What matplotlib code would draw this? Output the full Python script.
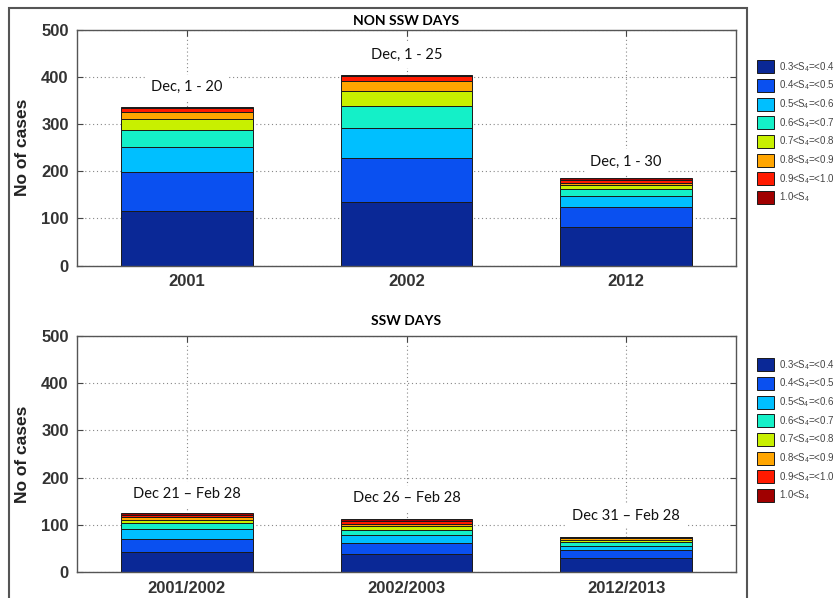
import matplotlib
matplotlib.use("Agg")
import matplotlib.pyplot as plt
import numpy as np
from matplotlib.patches import Rectangle

plt.rcParams["font.family"] = ["Liberation Sans", "DejaVu Sans"]
plt.rcParams["mathtext.default"] = "regular"

# class labels (S4 bins) and colours
classes = ["0.3<S$_4$=<0.4", "0.4<S$_4$=<0.5", "0.5<S$_4$=<0.6", "0.6<S$_4$=<0.7",
           "0.7<S$_4$=<0.8", "0.8<S$_4$=<0.9", "0.9<S$_4$=<1.0", "1.0<S$_4$"]
colors = ["#0a2896", "#0a50f0", "#00bfff", "#14f0c8",
          "#c8f000", "#ffa500", "#ff1a00", "#a00000"]

# NON SSW days
non_ssw_years = ["2001", "2002", "2012"]
non_ssw_counts = [
    [116, 135, 82],
    [83, 93, 43],
    [52, 64, 23],
    [36, 47, 14],
    [24, 31, 8],
    [15, 21, 6],
    [8, 10, 5],
    [2, 3, 5],
]
non_ssw_periods = ["Dec, 1 - 20", "Dec, 1 - 25", "Dec, 1 - 30"]
non_ssw_label_y = [378, 446, 220]

# SSW days
ssw_years = ["2001/2002", "2002/2003", "2012/2013"]
ssw_counts = [
    [42, 39, 31],
    [28, 23, 16],
    [21, 17, 9],
    [13, 11, 8],
    [7, 7, 4],
    [6, 6, 3.5],
    [5, 5, 2],
    [3, 4.5, 2],
]
ssw_periods = ["Dec 21 \u2013 Feb 28", "Dec 26 \u2013 Feb 28", "Dec 31 \u2013 Feb 28"]
ssw_label_y = [165, 156, 119]

W, H = 840, 598
fig = plt.figure(figsize=(8.4, 5.98), dpi=100)


def fx(px):
    return px / W


def fy(py):
    return 1 - py / H


def draw_panel(ax, years, counts, periods, label_y, title, title_y, leg_top):
    x = np.arange(1, len(years) + 1)
    bottom = np.zeros(len(years))
    handles = []
    for k, vals in enumerate(counts):
        vals = np.asarray(vals, dtype=float)
        b = ax.bar(x, vals, width=0.6, bottom=bottom, color=colors[k],
                   edgecolor="#1a1a1a", lw=0.7, zorder=2, label=classes[k])
        handles.append(b)
        bottom += vals
    ax.set_xlim(0.5, 3.5)
    ax.set_ylim(0, 500)
    yt = list(range(0, 501, 100))
    ax.set_yticks(yt, [str(v) for v in yt], fontweight="bold",
                  family="Liberation Sans")
    ax.set_xticks(x, years, fontweight="bold", family="Liberation Sans")
    ax.tick_params(direction="in", top=True, right=True, length=4,
                   color="#444", labelsize=12, labelcolor="#333", pad=6)
    ax.grid(True, ls=(0, (1, 2.5)), color="#888", lw=0.8, zorder=0)
    ax.set_axisbelow(True)
    for s in ax.spines.values():
        s.set_color("#555")
        s.set_linewidth(1.0)
    ax.set_ylabel("No of cases", fontsize=12.5, fontweight="bold",
                  family="Liberation Sans", color="#222", labelpad=8)
    for xi, txt, yy in zip(x, periods, label_y):
        ax.text(xi, yy, txt, ha="center", va="center", fontsize=10.5,
                family="Lato", color="#111", zorder=3,
                bbox=dict(facecolor="white", edgecolor="none", pad=4))
    fig.text(0.5 * (fx(77) + fx(736)), title_y, title, ha="center", va="center",
             fontsize=10, fontweight="bold", family="Lato",
             bbox=dict(facecolor="white", edgecolor="none", pad=1))
    fig.legend(handles=handles, loc="upper left",
               bbox_to_anchor=(fx(757), leg_top), frameon=False,
               borderpad=0, borderaxespad=0, handlelength=1.7,
               handleheight=1.7, handletextpad=0.6, labelspacing=0.5,
               prop={"family": "Liberation Sans", "size": 7},
               labelcolor="#444")


ax_top = fig.add_axes([fx(77), fy(265.7), fx(736) - fx(77), (265.7 - 29.5) / H])
draw_panel(ax_top, non_ssw_years, non_ssw_counts, non_ssw_periods,
           non_ssw_label_y, "NON SSW DAYS", fy(21), fy(60))

ax_bot = fig.add_axes([fx(77), fy(572.3), fx(736) - fx(77), (572.3 - 335.5) / H])
draw_panel(ax_bot, ssw_years, ssw_counts, ssw_periods,
           ssw_label_y, "SSW DAYS", fy(321), fy(358))

# outer frame around both panels
fig.patches.append(Rectangle((fx(9), fy(605)), fx(747) - fx(9), fy(8) - fy(605),
                             transform=fig.transFigure, fill=False,
                             edgecolor="#555", lw=1.5, clip_on=False))

fig.savefig("out.png", dpi=100)
plt.close(fig)
